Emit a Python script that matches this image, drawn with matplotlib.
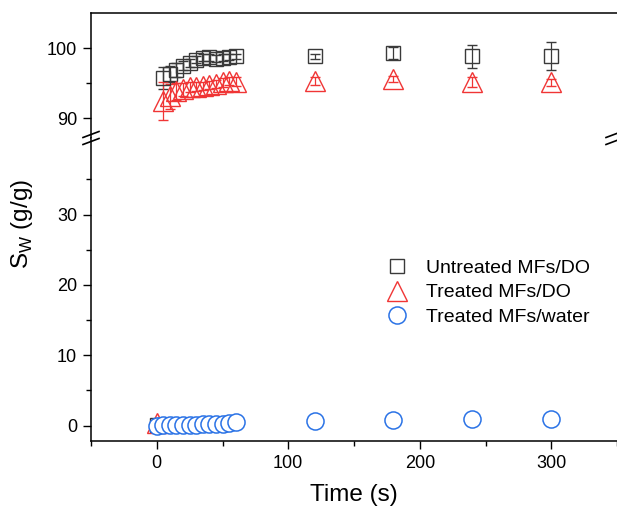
import matplotlib.pyplot as plt
from matplotlib.lines import Line2D

plt.rcParams['font.family'] = ['Liberation Sans', 'DejaVu Sans']
plt.rcParams['mathtext.fontset'] = 'custom'
plt.rcParams['mathtext.rm'] = 'Liberation Sans'

# swelling data, time in seconds
time_s = [0, 5, 10, 15, 20, 25, 30, 35, 40, 45, 50, 55, 60, 120, 180, 240, 300]
untreated_do = [0.1, 95.7, 96.3, 96.9, 97.5, 97.9, 98.3, 98.6, 98.7, 98.5, 98.6, 98.7, 98.8,
                98.8, 99.3, 98.8, 98.8]
untreated_do_err = [0, 1.6, 1.2, 1.0, 0.7, 0.6, 0.5, 0.5, 0.5, 0.5, 0.5, 0.4, 0.3,
                    0.3, 0.8, 1.7, 2.0]
treated_do = [0.4, 92.4, 93.1, 93.8, 94.1, 94.4, 94.5, 94.6, 94.7, 94.9, 95.1, 95.3, 95.2,
              95.3, 95.6, 95.2, 95.1]
treated_do_err = [0, 2.7, 1.8, 1.2, 0.9, 0.7, 0.6, 0.6, 0.6, 0.6, 0.6, 0.6, 0.6,
                  0.6, 0.4, 0.7, 0.5]
treated_water = [0, 0.02, 0.04, 0.06, 0.08, 0.1, 0.12, 0.15, 0.18, 0.22, 0.28, 0.38, 0.48,
                 0.65, 0.85, 0.9, 1.0]

labels = ['Untreated MFs/DO', 'Treated MFs/DO', 'Treated MFs/water']
c_black = '#3a3a3a'
c_red = '#f03535'
c_blue = '#2a72e6'

W_PX, H_PX = 617, 509
fig = plt.figure(figsize=(W_PX / 100, H_PX / 100), dpi=100)

left = 91 / W_PX
split = 138  # pixel row of the axis break
ax_top = fig.add_axes([left, 1 - split / H_PX, 1 - left, (split - 13) / H_PX])
ax_bot = fig.add_axes([left, 1 - 441 / H_PX, 1 - left, (441 - split) / H_PX])

for ax in (ax_top, ax_bot):
    ax.errorbar(time_s, untreated_do, yerr=untreated_do_err, fmt='s', ms=10.5,
                mfc='none', mec=c_black, mew=1.0, ecolor=c_black, elinewidth=0.9,
                capsize=3.5, capthick=0.9, zorder=2)
    ax.errorbar(time_s, treated_do, yerr=treated_do_err, fmt='^', ms=14,
                mfc='none', mec=c_red, mew=1.0, ecolor=c_red, elinewidth=0.9,
                capsize=3.5, capthick=0.9, zorder=2)
    # white-filled circles sit on top of the other series
    ax.plot(time_s, treated_water, 'o', ms=12.3, mfc='white', mec=c_blue, mew=1.1,
            zorder=4)
    ax.set_xlim(-50, 350)
    ax.spines['right'].set_visible(False)
    ax.tick_params(axis='both', which='major', direction='out', length=6, width=1,
                   labelsize=13, pad=4)
    ax.tick_params(axis='both', which='minor', direction='out', length=3.5, width=1)
    for s in ax.spines.values():
        s.set_linewidth(1.1)

ax_top.set_ylim(87.15, 105)
ax_top.set_yticks([90, 100])
ax_top.set_yticks([95], minor=True)
ax_top.spines['bottom'].set_visible(False)
ax_top.tick_params(axis='x', which='both', bottom=False, labelbottom=False)

ax_bot.set_ylim(-2.2, 40.9)
ax_bot.set_yticks([0, 10, 20, 30])
ax_bot.set_yticks([5, 15, 25, 35], minor=True)
ax_bot.set_xticks([0, 100, 200, 300])
ax_bot.set_xticks([-50, 50, 150, 250, 350], minor=True)
ax_bot.spines['top'].set_visible(False)
ax_bot.set_xlabel('Time (s)', fontsize=17.5, labelpad=9)

fig.text(22 / W_PX, 1 - 224 / H_PX, r'S$_\mathregular{W}$ (g/g)', fontsize=17.5,
         rotation=90, ha='center', va='center')

# break marks on the left axis and right edge
for xc in (91, 614):
    for dy in (-3.5, 3.5):
        yc = split + dy
        fig.add_artist(Line2D([(xc - 8) / W_PX, (xc + 8) / W_PX],
                              [1 - (yc + 3) / H_PX, 1 - (yc - 3) / H_PX],
                              color='black', lw=1.2))

handles = [
    Line2D([], [], ls='none', marker='s', ms=10.5, mfc='none', mec=c_black, mew=1.0),
    Line2D([], [], ls='none', marker='^', ms=14, mfc='none', mec=c_red, mew=1.0),
    Line2D([], [], ls='none', marker='o', ms=12.3, mfc='none', mec=c_blue, mew=1.1),
]
ax_bot.legend(handles, labels, loc='upper left', bbox_to_anchor=(387 / W_PX, 1 - 259 / H_PX),
              bbox_transform=fig.transFigure, frameon=False, fontsize=14,
              handlelength=1.0, handletextpad=1.0, labelspacing=0.37, borderpad=0,
              borderaxespad=0)

fig.savefig('out.png', dpi=100)
